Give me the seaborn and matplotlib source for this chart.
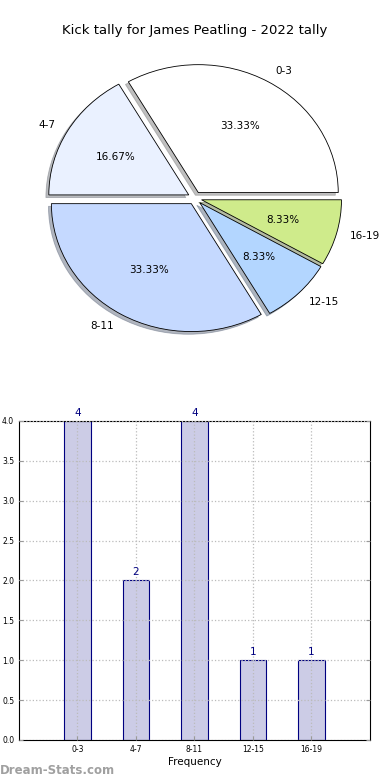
import matplotlib
matplotlib.use("Agg")
import matplotlib.pyplot as plt
import seaborn as sns

bins = ["0-3", "4-7", "8-11", "12-15", "16-19"]
counts = [4, 2, 4, 1, 1]
pie_colors = ["#FFFFFF", "#EAF1FF", "#C5D9FF", "#B3D6FF", "#CFEB8B"]

sns.set_style("white")
plt.rcParams["font.family"] = ["DejaVu Sans"]
plt.rcParams["text.color"] = "black"
plt.rcParams["axes.labelcolor"] = "black"
plt.rcParams["xtick.color"] = "black"
plt.rcParams["ytick.color"] = "black"

fig = plt.figure(figsize=(3.9, 7.8), dpi=100)

# pie
ax_pie = fig.add_axes([0.051, 0.541, 0.897, 0.41])
wedges, texts, autotexts = ax_pie.pie(
    counts,
    labels=bins,
    colors=pie_colors,
    explode=[0.05] * len(counts),
    autopct="%.2f%%",
    shadow={"ox": -0.015, "oy": -0.015, "shade": 0.5},
    startangle=0,
    wedgeprops={"edgecolor": "black", "linewidth": 0.6},
    textprops={"fontsize": 7.5, "color": "black"},
)
ax_pie.set_aspect("auto")
ax_pie.set_xlim(-1.25, 1.25)
ax_pie.set_ylim(-1.25, 1.25)
fig.text(0.5, 0.961, "Kick tally for James Peatling - 2022 tally",
         ha="center", va="center", fontsize=9.5, color="black")

# bars
ax_bar = fig.add_axes([0.0487, 0.0513, 0.9, 0.409])
sns.barplot(
    x=bins,
    y=counts,
    color="#CCCCE6",
    edgecolor="navy",
    linewidth=0.8,
    width=0.45,
    saturation=1,
    ax=ax_bar,
)
ax_bar.set_xlim(-1, 5)
ax_bar.set_ylim(0, 4)
ax_bar.set_yticks([0, 0.5, 1, 1.5, 2, 2.5, 3, 3.5, 4])
ax_bar.set_yticklabels([f"{v:.1f}" for v in ax_bar.get_yticks()])
ax_bar.tick_params(axis="both", labelsize=5.5, length=3, direction="in",
                   color="#999999", labelcolor="black",
                   right=True, top=False, bottom=True, left=True)
ax_bar.grid(True, linestyle=":", color="#BBBBBB", linewidth=0.9)
ax_bar.set_axisbelow(False)
for s in ax_bar.spines.values():
    s.set_color("black")
    s.set_linewidth(0.8)
ax_bar.set_xlabel("Frequency", fontsize=7.5, labelpad=2, color="black")
ax_bar.set_ylabel("")

for i, v in enumerate(counts):
    ax_bar.text(i, v + 0.04, str(v), ha="center", va="bottom",
                fontsize=7.5, color="navy")

fig.text(0.0, 0.012, "Dream-Stats.com", ha="left", va="center",
         fontsize=8.5, color="#A0A0A0", fontweight="bold")

fig.savefig("out.png", dpi=100)
